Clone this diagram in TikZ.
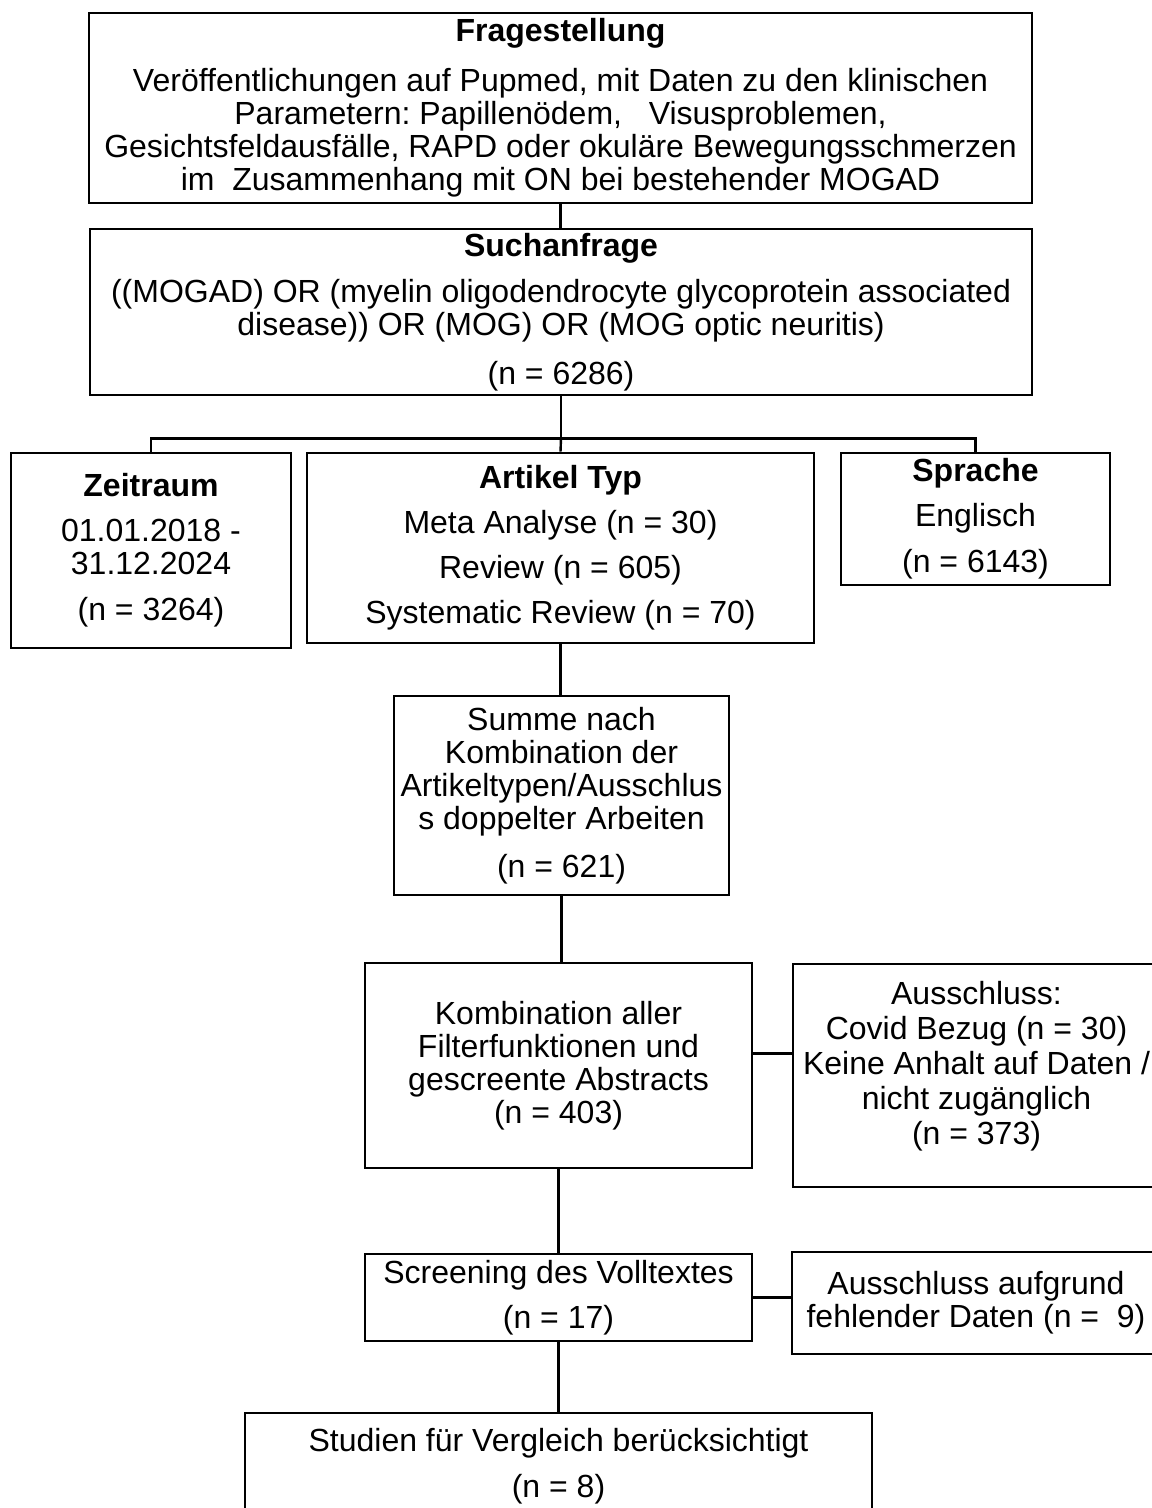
\documentclass[tikz,border=0pt]{standalone}
\usepackage{fontspec}
\setmainfont{Liberation Sans}
\usetikzlibrary{positioning}
\frenchspacing

\begin{document}
\begin{tikzpicture}[x=0.5pt, y=-0.5pt,
    box/.style={draw, line width=1.4pt, rectangle, align=center, inner sep=0pt,
        font=\fontsize{16}{16.5}\selectfont},
    link/.style={line width=1.2pt}]

\useasboundingbox (0,0) rectangle (1151,1508);

\node[box, minimum width=471.5pt, minimum height=95pt] (frage) at (560.5,108)
    {\textbf{Fragestellung}\\[8.5pt]
    Veröffentlichungen auf Pupmed, mit Daten zu den klinischen\\
    Parametern: Papillenödem, \ \ Visusproblemen,\\
    Gesichtsfeldausfälle, RAPD oder okuläre Bewegungsschmerzen\\
    im \ Zusammenhang mit ON bei bestehender MOGAD};

\node[box, minimum width=471pt, minimum height=83pt] (such) at (561,312)
    {\textbf{Suchanfrage}\\[6.5pt]
    ((MOGAD) OR (myelin oligodendrocyte glycoprotein associated\\
    disease)) OR (MOG) OR (MOG optic neuritis)\\[8pt]
    (n = 6286)};

\node[box, minimum width=140pt, minimum height=97.5pt] (zeit) at (151,550.5)
    {\textbf{Zeitraum}\\[6pt]
    01.01.2018 -\\
    31.12.2024\\[6.5pt]
    (n = 3264)};

\node[box, minimum width=253.5pt, minimum height=95pt] (art) at (560.5,548)
    {\textbf{Artikel Typ}\\[6pt]
    Meta Analyse (n = 30)\\[6pt]
    Review (n = 605)\\[6pt]
    Systematic Review (n = 70)};

\node[box, minimum width=134.5pt, minimum height=66pt] (spr) at (975.5,519)
    {\textbf{Sprache}\\[6pt]
    Englisch\\[6.5pt]
    (n = 6143)};

\node[box, minimum width=167.5pt, minimum height=99.5pt] (summe) at (561.5,795.5)
    {Summe nach\\
    Kombination der\\
    Artikeltypen/Ausschlus\\
    s doppelter Arbeiten\\[7.5pt]
    (n = 621)};

\node[box, minimum width=193.5pt, minimum height=102.5pt] (komb) at (558.5,1065.5)
    {Kombination aller\\
    Filterfunktionen und\\
    gescreente Abstracts\\
    (n = 403)};

\node[box, minimum width=183.5pt, minimum height=111.5pt] (aus1) at (976.5,1075.5)
    {Ausschluss:\\[1pt]
    Covid Bezug (n = 30)\\[1pt]
    Keine Anhalt auf Daten /\\[1pt]
    nicht zugänglich\\[1pt]
    (n = 373)\\[-4pt]};

\node[box, minimum width=193.5pt, minimum height=43.5pt] (screen) at (558.5,1297.5)
    {Screening des Volltextes\\[6pt]
    (n = 17)};

\node[box, minimum width=184pt, minimum height=51pt] (aus2) at (976,1303)
    {Ausschluss aufgrund\\
    fehlender Daten (n = \ 9)};

\node[box, minimum width=313.5pt, minimum height=53.5pt] (stud) at (558.5,1466.5)
    {Studien für Vergleich berücksichtigt\\[6.5pt]
    (n = 8)};

% connectors
\draw[link] (frage.south) -- (frage.south |- such.north);
\draw[link] (such.south) -- ++(0,42) coordinate (fork);
\draw[link] (zeit.north) |- (fork) -| (spr.north);
\draw[link] (fork) -- (art.north);
\draw[link] (art.south) -- (summe.north -| art.south);
\draw[link] (summe.south) -- (komb.north -| summe.south);
\draw[link] ([yshift=6pt]komb.east) -- ([yshift=6pt]komb.east -| aus1.west);
\draw[link] (komb.south) -- (screen.north);
\draw[link] (screen.east) -- (screen.east -| aus2.west);
\draw[link] (screen.south) -- (stud.north);

\end{tikzpicture}
\end{document}
